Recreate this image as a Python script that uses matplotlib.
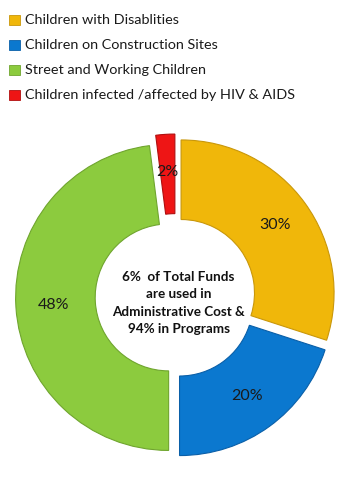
import matplotlib
matplotlib.use("Agg")
import matplotlib.pyplot as plt
from matplotlib.patches import Rectangle

categories = ["Children with Disablities", "Children on Construction Sites",
              "Street and Working Children", "Children infected /affected by HIV & AIDS"]
values = [30, 20, 48, 2]
colors = ["#F0B70A", "#0B78CF", "#8CCB3E", "#EE1515"]
edges = ["#C9970A", "#0A5FA8", "#6FA52E", "#B00E0E"]
explode = [0.045, 0.045, 0.045, 0.065]
center_text = "6%  of Total Funds\nare used in\nAdministrative Cost &\n94% in Programs"

plt.rcParams['font.family'] = ['Lato', 'DejaVu Sans']

W, H = 350, 486
fig = plt.figure(figsize=(W / 100, H / 100), dpi=100)
fig.patch.set_facecolor("white")

cx, cy, R = 175.5, 297.0, 153.0
lim = 1.1
size = 2 * lim * R
ax = fig.add_axes([(cx - lim * R) / W, (H - cy - lim * R) / H, size / W, size / H])

wedges, texts, autotexts = ax.pie(
    values, colors=colors, explode=explode, startangle=90, counterclock=False,
    radius=1.0, wedgeprops=dict(width=0.52, linewidth=0.8),
    autopct=lambda p: f"{p:.0f}%", pctdistance=0.755,
    textprops=dict(fontsize=11.5, color="#1a1a1a"))
for w, ec in zip(wedges, edges):
    w.set_edgecolor(ec)
ax.set_xlim(-lim, lim)
ax.set_ylim(-lim, lim)
ax.axis("off")

ax.text(0.02, -0.04, center_text, ha="center", va="center", fontsize=9.7,
        fontweight="bold", color="#111111", linespacing=1.55)

# legend
y0 = 20
for i, (cat, col, ec) in enumerate(zip(categories, colors, edges)):
    yc = y0 + i * 25
    fig.patches.append(Rectangle(((8.5) / W, (H - yc - 5) / H), 11 / W, 10 / H,
                                 transform=fig.transFigure, facecolor=col,
                                 edgecolor=ec, linewidth=0.6))
    fig.text(24.5 / W, (H - yc) / H, cat, ha="left", va="center", fontsize=10.4,
             color="#1a1a1a")

fig.savefig("out.png", dpi=100, facecolor="white")
